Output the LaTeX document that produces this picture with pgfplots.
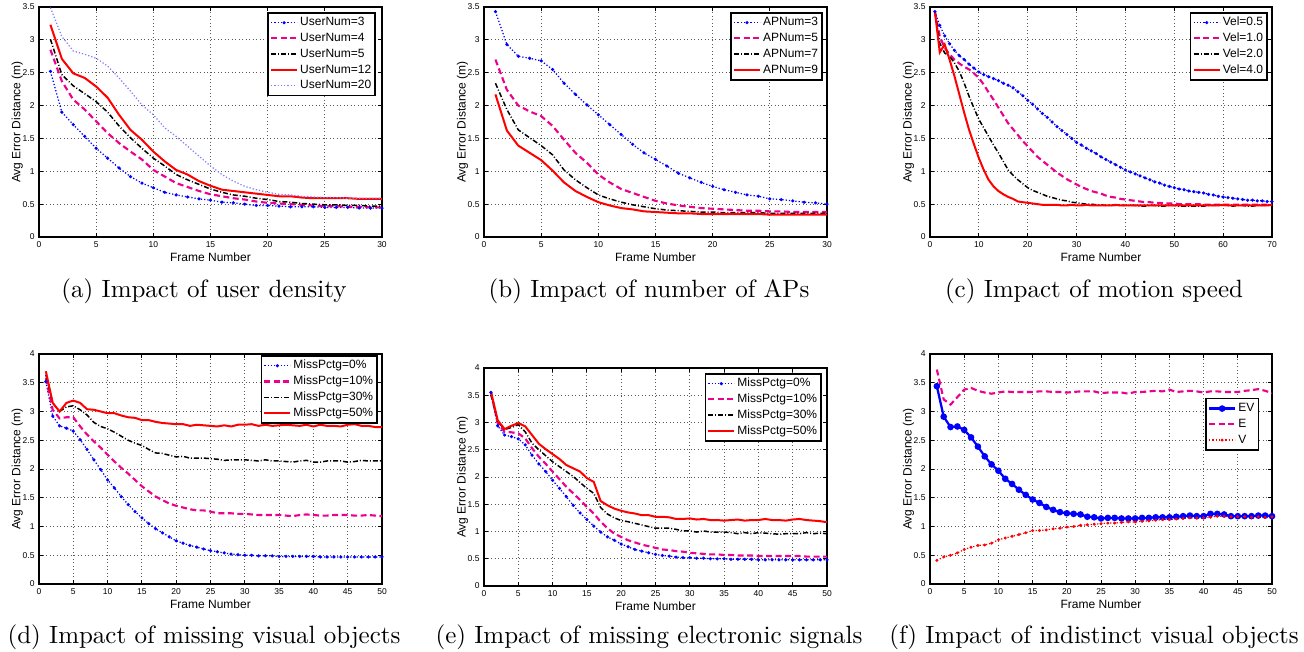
\documentclass[border=0pt]{standalone}
\usepackage{fontspec}
\usepackage{pgfplots}
\usepackage{pgfplotstable}
\pgfplotsset{compat=1.18}
\newfontfamily\hv{Liberation Sans}
\definecolor{lblue}{rgb}{0.5,0.5,1}

% (a) user density
\pgfplotstableread{
f u3 u4 u5 u12 u20
1 2.52 2.85 3.01 3.23 3.49
2 1.90 2.37 2.47 2.71 3.05
3 1.71 2.09 2.30 2.49 2.83
4 1.53 1.94 2.18 2.42 2.78
5 1.35 1.76 2.06 2.29 2.72
6 1.20 1.58 1.90 2.12 2.60
7 1.05 1.43 1.69 1.86 2.42
8 0.92 1.30 1.51 1.63 2.22
9 0.82 1.18 1.35 1.48 2.01
10 0.75 1.02 1.20 1.30 1.86
11 0.68 0.92 1.08 1.15 1.66
12 0.64 0.82 0.95 1.02 1.53
13 0.61 0.76 0.87 0.95 1.38
14 0.58 0.70 0.80 0.85 1.23
15 0.56 0.65 0.73 0.78 1.08
16 0.53 0.62 0.68 0.72 0.95
17 0.52 0.59 0.64 0.70 0.85
18 0.50 0.57 0.62 0.68 0.77
19 0.48 0.54 0.59 0.66 0.72
20 0.48 0.52 0.57 0.64 0.68
21 0.47 0.51 0.54 0.62 0.65
22 0.46 0.50 0.53 0.62 0.64
23 0.46 0.49 0.51 0.60 0.62
24 0.46 0.48 0.50 0.59 0.61
25 0.45 0.47 0.49 0.59 0.60
26 0.45 0.47 0.49 0.59 0.60
27 0.45 0.46 0.48 0.59 0.59
28 0.44 0.46 0.48 0.58 0.59
29 0.44 0.45 0.47 0.58 0.59
30 0.44 0.45 0.47 0.58 0.59
}\tabA

% (b) number of APs
\pgfplotstableread{
f a3 a5 a7 a9
1 3.43 2.70 2.34 2.17
2 2.93 2.24 1.94 1.62
3 2.75 2.00 1.63 1.39
4 2.72 1.91 1.51 1.28
5 2.68 1.84 1.39 1.17
6 2.55 1.69 1.25 1.01
7 2.34 1.48 1.02 0.83
8 2.17 1.28 0.87 0.70
9 2.01 1.13 0.75 0.61
10 1.86 0.95 0.64 0.53
11 1.71 0.83 0.58 0.48
12 1.56 0.73 0.53 0.44
13 1.41 0.67 0.49 0.42
14 1.28 0.61 0.46 0.39
15 1.18 0.55 0.43 0.38
16 1.08 0.51 0.41 0.37
17 0.97 0.48 0.40 0.36
18 0.90 0.46 0.39 0.36
19 0.83 0.44 0.38 0.35
20 0.77 0.43 0.38 0.35
21 0.72 0.42 0.37 0.35
22 0.68 0.41 0.37 0.35
23 0.64 0.40 0.37 0.35
24 0.62 0.40 0.37 0.35
25 0.58 0.39 0.36 0.34
26 0.57 0.39 0.36 0.34
27 0.55 0.38 0.36 0.34
28 0.53 0.38 0.36 0.34
29 0.52 0.38 0.36 0.34
30 0.50 0.38 0.36 0.34
}\tabB

% (c) motion speed
\pgfplotstableread{
f v05 v10 v20 v40
1 3.43 3.43 3.43 3.43
2 3.22 3.05 2.95 2.81
3 3.06 2.88 2.80 2.93
4 2.94 2.78 2.75 2.70
5 2.84 2.70 2.65 2.45
6 2.76 2.64 2.52 2.17
7 2.70 2.59 2.34 1.89
8 2.63 2.55 2.14 1.63
9 2.57 2.49 1.96 1.41
10 2.51 2.42 1.79 1.20
11 2.47 2.32 1.66 1.02
12 2.44 2.20 1.53 0.87
13 2.41 2.09 1.40 0.77
14 2.38 1.97 1.28 0.70
15 2.34 1.85 1.15 0.65
16 2.31 1.73 1.02 0.61
17 2.27 1.64 0.94 0.58
18 2.21 1.55 0.87 0.54
19 2.15 1.46 0.81 0.53
20 2.08 1.38 0.75 0.52
21 2.02 1.30 0.71 0.51
22 1.95 1.22 0.68 0.50
23 1.88 1.16 0.65 0.49
24 1.82 1.10 0.62 0.49
25 1.75 1.04 0.60 0.49
26 1.68 0.98 0.58 0.49
27 1.62 0.93 0.56 0.48
28 1.56 0.88 0.55 0.48
29 1.50 0.84 0.53 0.49
30 1.44 0.80 0.52 0.48
31 1.40 0.76 0.51 0.48
32 1.35 0.73 0.50 0.49
33 1.31 0.70 0.50 0.48
34 1.27 0.68 0.49 0.48
35 1.22 0.66 0.49 0.48
36 1.18 0.63 0.48 0.48
37 1.14 0.61 0.48 0.48
38 1.10 0.60 0.48 0.49
39 1.06 0.58 0.48 0.48
40 1.02 0.57 0.48 0.48
41 0.99 0.56 0.48 0.48
42 0.96 0.55 0.48 0.48
43 0.93 0.54 0.47 0.48
44 0.90 0.53 0.47 0.48
45 0.87 0.53 0.48 0.48
46 0.84 0.52 0.48 0.48
47 0.82 0.52 0.47 0.48
48 0.79 0.51 0.47 0.48
49 0.77 0.51 0.48 0.48
50 0.75 0.51 0.48 0.48
51 0.73 0.50 0.47 0.48
52 0.72 0.50 0.47 0.48
53 0.70 0.50 0.47 0.48
54 0.69 0.50 0.47 0.48
55 0.68 0.50 0.47 0.48
56 0.67 0.49 0.47 0.48
57 0.65 0.49 0.48 0.48
58 0.64 0.49 0.48 0.48
59 0.62 0.49 0.48 0.48
60 0.61 0.49 0.48 0.49
61 0.60 0.49 0.48 0.48
62 0.59 0.49 0.47 0.48
63 0.58 0.49 0.48 0.48
64 0.57 0.49 0.48 0.48
65 0.56 0.49 0.47 0.48
66 0.56 0.49 0.47 0.48
67 0.55 0.49 0.48 0.48
68 0.55 0.49 0.48 0.48
69 0.54 0.49 0.48 0.48
70 0.54 0.49 0.48 0.49
}\tabC

% (d) missing visual objects
\pgfplotstableread{
f m0 m10 m30 m50
1 3.52 3.58 3.64 3.70
2 2.92 3.03 3.15 3.15
3 2.75 2.88 3.00 3.00
4 2.71 2.90 3.08 3.15
5 2.66 2.90 3.10 3.19
6 2.51 2.74 3.03 3.15
7 2.34 2.60 2.94 3.04
8 2.16 2.48 2.81 3.03
9 1.99 2.37 2.74 3.00
10 1.81 2.25 2.70 2.97
11 1.67 2.13 2.64 2.97
12 1.52 2.02 2.57 2.93
13 1.38 1.92 2.50 2.90
14 1.26 1.81 2.45 2.89
15 1.15 1.70 2.41 2.85
16 1.05 1.61 2.34 2.85
17 0.96 1.52 2.28 2.82
18 0.89 1.46 2.27 2.80
19 0.82 1.40 2.24 2.79
20 0.75 1.36 2.21 2.78
21 0.71 1.33 2.22 2.78
22 0.67 1.30 2.19 2.75
23 0.64 1.28 2.19 2.77
24 0.61 1.28 2.19 2.76
25 0.58 1.26 2.18 2.75
26 0.56 1.23 2.17 2.74
27 0.54 1.23 2.15 2.76
28 0.52 1.23 2.16 2.74
29 0.51 1.22 2.16 2.77
30 0.50 1.22 2.16 2.77
31 0.50 1.21 2.15 2.78
32 0.49 1.20 2.14 2.75
33 0.49 1.20 2.16 2.77
34 0.49 1.20 2.14 2.75
35 0.48 1.20 2.14 2.76
36 0.48 1.19 2.13 2.77
37 0.48 1.18 2.12 2.76
38 0.48 1.20 2.14 2.75
39 0.48 1.21 2.15 2.77
40 0.48 1.20 2.12 2.74
41 0.47 1.19 2.12 2.77
42 0.47 1.19 2.14 2.75
43 0.47 1.20 2.14 2.75
44 0.47 1.20 2.14 2.74
45 0.47 1.20 2.12 2.77
46 0.47 1.19 2.13 2.78
47 0.47 1.19 2.15 2.75
48 0.47 1.20 2.14 2.75
49 0.47 1.19 2.14 2.73
50 0.47 1.18 2.14 2.73
}\tabD

% (e) missing electronic signals
\pgfplotstableread{
f m0 m10 m30 m50
1 3.55 3.57 3.51 3.57
2 2.94 2.99 3.02 3.04
3 2.77 2.83 2.87 2.88
4 2.74 2.82 2.91 2.94
5 2.70 2.80 2.96 2.99
6 2.59 2.71 2.83 2.93
7 2.40 2.53 2.62 2.77
8 2.24 2.37 2.50 2.61
9 2.10 2.24 2.39 2.51
10 1.94 2.10 2.28 2.42
11 1.79 1.96 2.19 2.33
12 1.64 1.82 2.10 2.22
13 1.48 1.70 2.01 2.16
14 1.34 1.58 1.90 2.10
15 1.22 1.45 1.79 1.98
16 1.10 1.33 1.70 1.91
17 0.99 1.18 1.44 1.56
18 0.90 1.06 1.32 1.48
19 0.84 0.96 1.25 1.42
20 0.77 0.90 1.20 1.38
21 0.72 0.84 1.18 1.35
22 0.67 0.80 1.15 1.33
23 0.64 0.76 1.12 1.30
24 0.61 0.73 1.09 1.30
25 0.58 0.70 1.06 1.27
26 0.56 0.67 1.06 1.27
27 0.55 0.66 1.06 1.26
28 0.53 0.64 1.04 1.23
29 0.52 0.63 1.01 1.23
30 0.52 0.61 1.01 1.24
31 0.51 0.60 0.99 1.22
32 0.51 0.59 1.01 1.23
33 0.50 0.58 0.99 1.21
34 0.50 0.58 0.99 1.21
35 0.50 0.57 0.99 1.20
36 0.49 0.57 0.98 1.21
37 0.49 0.56 0.96 1.22
38 0.49 0.56 0.98 1.20
39 0.49 0.56 0.96 1.21
40 0.48 0.55 0.98 1.21
41 0.48 0.55 0.97 1.23
42 0.48 0.55 0.96 1.21
43 0.48 0.55 0.95 1.21
44 0.48 0.55 0.96 1.20
45 0.48 0.55 0.96 1.22
46 0.48 0.55 0.96 1.23
47 0.48 0.54 0.98 1.21
48 0.48 0.54 0.96 1.20
49 0.48 0.54 0.97 1.19
50 0.48 0.54 0.96 1.17
}\tabE

% (f) indistinct visual objects
\pgfplotstableread{
f ev e v
1 3.44 3.73 0.41
2 2.91 3.21 0.47
3 2.73 3.12 0.50
4 2.74 3.25 0.54
5 2.68 3.38 0.60
6 2.55 3.41 0.64
7 2.39 3.36 0.67
8 2.22 3.33 0.68
9 2.08 3.31 0.71
10 1.97 3.33 0.77
11 1.83 3.35 0.80
12 1.74 3.34 0.83
13 1.64 3.34 0.86
14 1.55 3.34 0.89
15 1.47 3.34 0.93
16 1.41 3.35 0.93
17 1.34 3.35 0.94
18 1.29 3.34 0.96
19 1.25 3.34 0.97
20 1.23 3.33 0.99
21 1.22 3.34 1.00
22 1.21 3.35 1.02
23 1.17 3.35 1.03
24 1.16 3.35 1.04
25 1.14 3.32 1.05
26 1.15 3.33 1.06
27 1.15 3.33 1.06
28 1.14 3.33 1.07
29 1.14 3.31 1.08
30 1.14 3.34 1.08
31 1.15 3.34 1.09
32 1.15 3.35 1.10
33 1.16 3.36 1.11
34 1.16 3.35 1.12
35 1.16 3.38 1.12
36 1.17 3.34 1.13
37 1.18 3.35 1.14
38 1.19 3.36 1.15
39 1.18 3.35 1.15
40 1.18 3.33 1.15
41 1.22 3.35 1.16
42 1.22 3.35 1.18
43 1.21 3.34 1.18
44 1.18 3.34 1.17
45 1.18 3.34 1.17
46 1.18 3.36 1.17
47 1.18 3.37 1.16
48 1.19 3.39 1.17
49 1.19 3.36 1.16
50 1.18 3.32 1.17
}\tabF

\pgfplotsset{
  panel/.style={
    scale only axis, width=137.2pt, height=92pt,
    xmin=0, ymin=0,
    tick align=inside, major tick length=1.5pt,
    tick style={black, line width=0.4pt},
    axis line style={line width=0.45pt},
    grid=major,
    grid style={black!65, line width=0.35pt, dash pattern=on 0.4pt off 1pt},
    tick label style={font=\hv\fontsize{3.4}{4}\selectfont, inner sep=0.6pt},
    /pgf/number format/assume math mode=true,
    xticklabel style={yshift=-1.2pt},
    yticklabel style={xshift=-1pt},
    xlabel={Frame Number}, ylabel={Avg Error Distance (m)},
    every axis x label/.style={at={(axis description cs:0.5,0)}, anchor=center, yshift=-8pt, font=\hv\fontsize{4.8}{5.5}\selectfont},
    every axis y label/.style={at={(axis description cs:-0.063,0.5)}, anchor=center, rotate=90, font=\hv\fontsize{4.8}{5.5}\selectfont},
    legend cell align=left,
    legend style={draw=black, line width=0.6pt, fill=white,
      font=\hv\fontsize{4.8}{5.5}\selectfont, inner sep=0.8pt, row sep=0pt,
      nodes={inner sep=0.8pt, text height=3.6pt, text depth=1.1pt},
      /tikz/every even column/.append style={column sep=0.6pt},
      anchor=north east},
    legend image code/.code={\draw[mark repeat=2,mark phase=2,#1] plot coordinates {(0pt,0pt) (5.2pt,0pt) (10.4pt,0pt)};},
  },
  sB/.style={blue, line width=0.5pt, dash pattern=on 0.5pt off 0.8pt, mark=*, mark size=0.35pt, mark options={solid}},
  sLB/.style={lblue, line width=0.5pt, dash pattern=on 0.5pt off 0.8pt},
  sM/.style={magenta, line width=0.85pt, dash pattern=on 2.4pt off 1.4pt},
  sK/.style={black, line width=0.6pt, dash pattern=on 2pt off 0.8pt on 0.4pt off 0.8pt},
  sR/.style={red, line width=0.8pt},
}

\begin{document}
\begin{tikzpicture}
\useasboundingbox (0,0) rectangle (521.6pt,260.4pt);

% ---- row 1 ----
\begin{axis}[panel, at={(15.6pt,165.6pt)}, anchor=south west,
  xmax=30, ymax=3.5, xtick={0,5,...,30}, ytick={0,0.5,...,3.5},
  legend style={at={(0.9825,0.978)}}]
\addplot[sB] table[x=f,y=u3] {\tabA};
\addplot[sM] table[x=f,y=u4] {\tabA};
\addplot[sK] table[x=f,y=u5] {\tabA};
\addplot[sR] table[x=f,y=u12] {\tabA};
\addplot[sLB] table[x=f,y=u20] {\tabA};
\legend{UserNum=3,UserNum=4,UserNum=5,UserNum=12,UserNum=20}
\end{axis}

\begin{axis}[panel, at={(193.6pt,165.6pt)}, anchor=south west,
  xmax=30, ymax=3.5, xtick={0,5,...,30}, ytick={0,0.5,...,3.5},
  legend style={at={(0.988,0.978)}}]
\addplot[sB] table[x=f,y=a3] {\tabB};
\addplot[sM] table[x=f,y=a5] {\tabB};
\addplot[sK] table[x=f,y=a7] {\tabB};
\addplot[sR] table[x=f,y=a9] {\tabB};
\legend{APNum=3,APNum=5,APNum=7,APNum=9}
\end{axis}

\begin{axis}[panel, at={(372pt,165.6pt)}, anchor=south west, width=136.8pt,
  xmax=70, ymax=3.5, xtick={0,10,...,70}, ytick={0,0.5,...,3.5},
  legend style={at={(0.988,0.978)}}]
\addplot[sB] table[x=f,y=v05] {\tabC};
\addplot[sM] table[x=f,y=v10] {\tabC};
\addplot[sK] table[x=f,y=v20] {\tabC};
\addplot[sR] table[x=f,y=v40] {\tabC};
\legend{Vel=0.5,Vel=1.0,Vel=2.0,Vel=4.0}
\end{axis}

% ---- row 2 ----
\begin{axis}[panel, at={(15.6pt,26.8pt)}, anchor=south west,
  xmax=50, ymax=4, xtick={0,5,...,50}, ytick={0,0.5,...,4},
  legend style={at={(0.988,0.995)}}]
\addplot[sB] table[x=f,y=m0] {\tabD};
\addplot[sM] table[x=f,y=m10] {\tabD};
\addplot[sK] table[x=f,y=m30] {\tabD};
\addplot[sR] table[x=f,y=m50] {\tabD};
\legend{MissPctg=0\%,MissPctg=10\%,MissPctg=30\%,MissPctg=50\%}
\end{axis}

\begin{axis}[panel, at={(193.6pt,26pt)}, anchor=south west, height=87.2pt,
  xmax=50, ymax=4, xtick={0,5,...,50}, ytick={0,0.5,...,4},
  legend style={at={(0.985,0.977)}}]
\addplot[sB] table[x=f,y=m0] {\tabE};
\addplot[sM] table[x=f,y=m10] {\tabE};
\addplot[sK] table[x=f,y=m30] {\tabE};
\addplot[sR] table[x=f,y=m50] {\tabE};
\legend{MissPctg=0\%,MissPctg=10\%,MissPctg=30\%,MissPctg=50\%}
\end{axis}

\begin{axis}[panel, at={(372pt,26.8pt)}, anchor=south west, width=136.8pt,
  xmax=50, ymax=4, xtick={0,5,...,50}, ytick={0,0.5,...,4},
  legend style={at={(0.962,0.809)}}]
\addplot[blue, line width=0.9pt, mark=*, mark size=0.85pt] table[x=f,y=ev] {\tabF};
\addplot[sM] table[x=f,y=e] {\tabF};
\addplot[red, line width=0.5pt, dash pattern=on 0.5pt off 0.8pt, mark=*, mark size=0.3pt, mark options={solid}] table[x=f,y=v] {\tabF};
\legend{EV,E,V}
\end{axis}

% ---- captions ----
\begin{scope}[every node/.style={anchor=base, font=\fontsize{10}{12}\selectfont}]
\node at (81.6pt,141.6pt) {(a) Impact of user density};
\node at (259.6pt,141.6pt) {(b) Impact of number of APs};
\node at (437.6pt,141.6pt) {(c) Impact of motion speed};
\node at (81.6pt,3.2pt) {(d) Impact of missing visual objects};
\node at (259.6pt,3.2pt) {(e) Impact of missing electronic signals};
\node at (437.6pt,3.2pt) {(f) Impact of indistinct visual objects};
\end{scope}
\end{tikzpicture}
\end{document}
